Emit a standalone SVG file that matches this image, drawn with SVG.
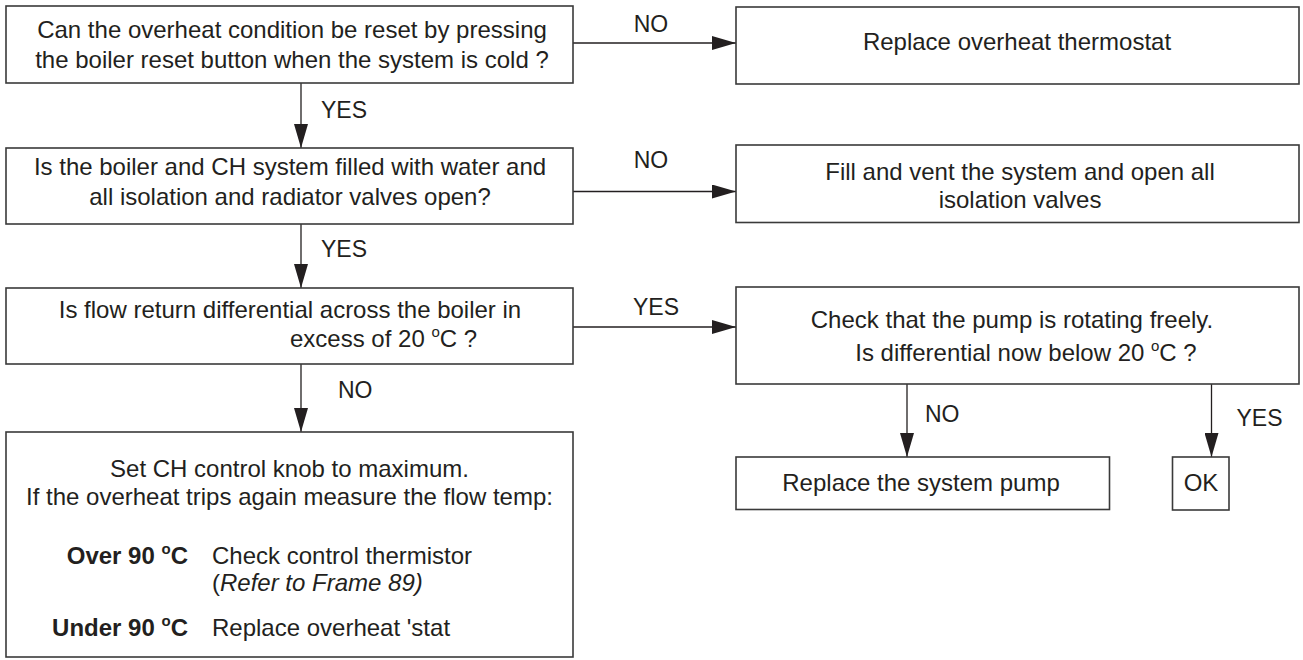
<svg xmlns="http://www.w3.org/2000/svg" width="1303" height="660" viewBox="0 0 1303 660">
<defs>
<marker id="ah" markerUnits="userSpaceOnUse" markerWidth="24" markerHeight="14" refX="24" refY="7" orient="auto" viewBox="0 0 24 14">
<path d="M0,0 L24,7 L0,14 z" fill="#231f20"/>
</marker>
<style>
.box{fill:#fff;stroke:#3a3a3a;stroke-width:1.6}
.t{font-family:"Liberation Sans",Arial,sans-serif;font-size:24px;fill:#231f20}
.c{text-anchor:middle}
.e{text-anchor:end}
.b{font-weight:bold}
.i{font-style:italic}
.lbl{font-family:"Liberation Sans",Arial,sans-serif;font-size:23px;fill:#231f20}
.ln{stroke:#231f20;stroke-width:1.3;fill:none;marker-end:url(#ah)}
</style>
</defs>
<rect width="1303" height="660" fill="#fff"/>
<g id="connectors">
<line class="ln" x1="573" y1="43" x2="736" y2="43"/>
<line class="ln" x1="573" y1="191.5" x2="736" y2="191.5"/>
<line class="ln" x1="573" y1="327" x2="736" y2="327"/>
<line class="ln" x1="301" y1="83" x2="301" y2="148"/>
<line class="ln" x1="301" y1="224" x2="301" y2="288"/>
<line class="ln" x1="301" y1="364" x2="301" y2="432"/>
<line class="ln" x1="907" y1="384" x2="907" y2="457"/>
<line class="ln" x1="1211.5" y1="384" x2="1211.5" y2="457"/>
<text class="lbl" x="651" y="32" text-anchor="middle">NO</text>
<text class="lbl" x="651" y="168" text-anchor="middle">NO</text>
<text class="lbl" x="656" y="315" text-anchor="middle">YES</text>
<text class="lbl" x="321" y="118">YES</text>
<text class="lbl" x="321" y="257">YES</text>
<text class="lbl" x="338" y="398">NO</text>
<text class="lbl" x="925" y="421.5">NO</text>
<text class="lbl" x="1236.5" y="425.5">YES</text>
</g>
<g id="q1">
<rect class="box" x="6" y="6" width="567" height="77"/>
<text class="t c" x="292" y="38">Can the overheat condition be reset by pressing</text>
<text class="t c" x="292" y="68">the boiler reset button when the system is cold ?</text>
</g>
<g id="r1">
<rect class="box" x="736" y="7" width="563" height="77"/>
<text class="t c" x="1017" y="50">Replace overheat thermostat</text>
</g>
<g id="q2">
<rect class="box" x="6" y="148" width="567" height="76"/>
<text class="t c" x="290" y="175">Is the boiler and CH system filled with water and</text>
<text class="t c" x="290" y="205">all isolation and radiator valves open?</text>
</g>
<g id="r2">
<rect class="box" x="736" y="145" width="563" height="77.5"/>
<text class="t c" x="1020" y="180">Fill and vent the system and open all</text>
<text class="t c" x="1020" y="208">isolation valves</text>
</g>
<g id="q3">
<rect class="box" x="6" y="288" width="567" height="76"/>
<text class="t c" x="290" y="318">Is flow return differential across the boiler in</text>
<text class="t" x="290" y="347">excess of 20 <tspan font-size="15" dy="-10">o</tspan><tspan dy="10">C ?</tspan></text>
</g>
<g id="r3">
<rect class="box" x="736" y="287" width="563" height="97"/>
<text class="t c" x="1012" y="328">Check that the pump is rotating freely.</text>
<text class="t c" x="1026" y="361">Is differential now below 20 <tspan font-size="15" dy="-10">o</tspan><tspan dy="10">C ?</tspan></text>
</g>
<g id="q4">
<rect class="box" x="6" y="432" width="567" height="225"/>
<text class="t c" x="289.5" y="477">Set CH control knob to maximum.</text>
<text class="t c" x="289.5" y="505">If the overheat trips again measure the flow temp:</text>
<text class="t b e" x="188" y="564">Over 90 <tspan font-size="15" dy="-10">o</tspan><tspan dy="10">C</tspan></text>
<text class="t" x="212" y="564">Check control thermistor</text>
<text class="t" x="212" y="591">(<tspan class="i">Refer to Frame 89)</tspan></text>
<text class="t b e" x="188" y="636">Under 90 <tspan font-size="15" dy="-10">o</tspan><tspan dy="10">C</tspan></text>
<text class="t" x="212" y="636">Replace overheat 'stat</text>
</g>
<g id="pump">
<rect class="box" x="736" y="457" width="373.5" height="52.5"/>
<text class="t c" x="921" y="491">Replace the system pump</text>
</g>
<g id="ok">
<rect class="box" x="1172.5" y="457" width="56.5" height="53"/>
<text class="t c" x="1201" y="491">OK</text>
</g>
</svg>
